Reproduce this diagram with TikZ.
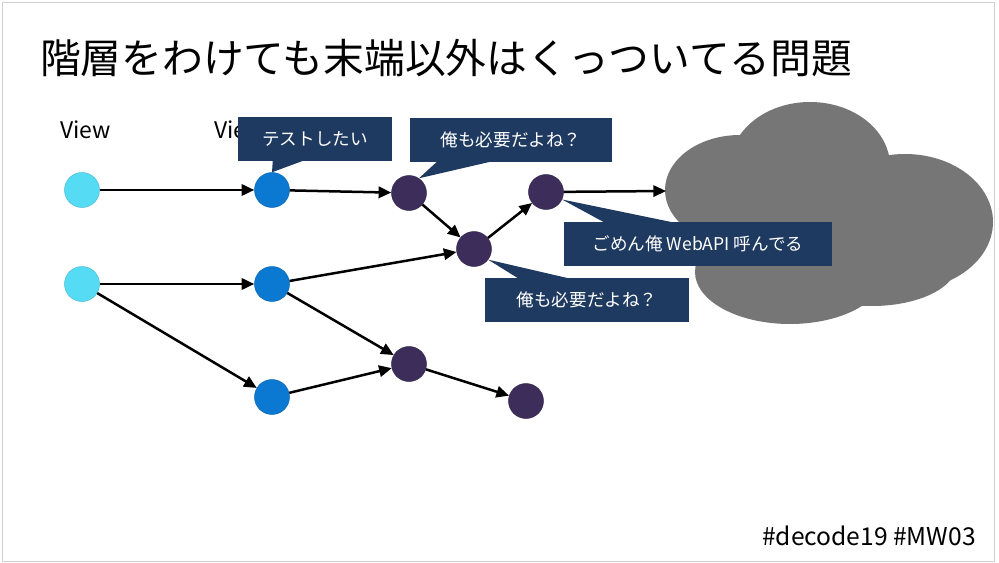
\documentclass[tikz,border=0pt]{standalone}
\usepackage{fontspec}
\setmainfont{Noto Sans CJK JP}
\usetikzlibrary{arrows.meta,calc}

\definecolor{viewcol}{HTML}{55DBF4}
\definecolor{vmcol}{HTML}{0B78D2}
\definecolor{modelcol}{HTML}{3C2D5A}
\definecolor{notecol}{HTML}{1F3A60}
\definecolor{cloudcol}{HTML}{767676}

\tikzset{
  dot/.style={circle, minimum size=1.05cm, inner sep=0pt, line width=0.4pt},
  viewnode/.style={dot, fill=viewcol, draw=viewcol!85!black},
  vmnode/.style={dot, fill=vmcol, draw=vmcol!85!black},
  modelnode/.style={dot, fill=modelcol, draw=modelcol!85!black},
  dep/.style={line width=0.75mm, -{Triangle[length=3.8mm,width=3.4mm]}},
  note/.style={fill=notecol, text=white, inner sep=0pt, minimum height=1.3cm,
    font=\fontsize{15}{18}\selectfont},
  lbl/.style={font=\fontsize{19.5}{22}\selectfont}
}

\begin{document}
\begin{tikzpicture}[x=0.03cm, y=-0.03cm]
        \useasboundingbox (0,0) rectangle (999,563);
        \draw[black!18, line width=0.8pt] (2,2) rectangle (994,561);

        \node[anchor=west, font=\fontsize{34.8}{40}\selectfont] (title) at (36,58) {階層をわけても末端以外はくっついてる問題};
        \node[lbl, anchor=base west] (lview) at (56,138) {View};
        \node[lbl, anchor=base west] (lvm) at (210,138) {View};
        \node[anchor=base east, font=\fontsize{21}{24}\selectfont] (tag) at (980,545) {\#decode19 \#MW03};

        \fill[cloudcol] (740,190) ellipse [x radius=75, y radius=55];
        \fill[cloudcol] (810,166) ellipse [x radius=80, y radius=64];
        \fill[cloudcol] (905,222) ellipse [x radius=88, y radius=68];
        \fill[cloudcol] (790,272) ellipse [x radius=95, y radius=52];
        \fill[cloudcol] (872,264) ellipse [x radius=85, y radius=42];
        \fill[cloudcol] (820,228) ellipse [x radius=110, y radius=78];
        \coordinate (cloudin) at (666,191);

        \node[viewnode] (v1) at (82,190) {};
        \node[viewnode] (v2) at (82,284) {};
        \node[vmnode] (vm1) at (272,190) {};
        \node[vmnode] (vm2) at (272,284) {};
        \node[vmnode] (vm3) at (272,397) {};
        \node[modelnode] (m1) at (409,193) {};
        \node[modelnode] (m2) at (474,249) {};
        \node[modelnode] (m3) at (546,192) {};
        \node[modelnode] (m4) at (409,364) {};
        \node[modelnode] (m5) at (526,401) {};

        \draw[dep] (v1) -- (vm1);
        \draw[dep] (v2) -- (vm2);
        \draw[dep] (v2) -- (vm3);
        \draw[dep] (vm1) -- (m1);
        \draw[dep] (vm2) -- (m2);
        \draw[dep] (vm2) -- (m4);
        \draw[dep] (vm3) -- (m4);
        \draw[dep] (m1) -- (m2);
        \draw[dep] (m2) -- (m3);
        \draw[dep] (m4) -- (m5);
        \draw[dep] (m3) -- (cloudin);

        \node[note, minimum width=4.62cm] (n1) at (315,139) {テストしたい};
        \fill[notecol] ($(n1.south west)+(35,0)$) -- (vm1.north) -- ($(n1.south west)+(65,0)$) -- cycle;
        \node[note, minimum width=6.06cm] (n2) at (511,140) {俺も必要だよね？};
        \fill[notecol] ($(n2.south west)+(27,0)$) -- (m1.56) -- ($(n2.south west)+(80,0)$) -- cycle;
        \node[note, minimum width=8.04cm] (n3) at (698,244) {ごめん俺 WebAPI 呼んでる};
        \fill[notecol] ($(n3.north west)+(40,0)$) -- (m3.-25) -- ($(n3.north west)+(108,0)$) -- cycle;
        \node[note, minimum width=6.12cm] (n4) at (587,300) {俺も必要だよね？};
        \fill[notecol] ($(n4.north west)+(33,0)$) -- (m2.-37) -- ($(n4.north west)+(83,0)$) -- cycle;
\end{tikzpicture}
\end{document}
